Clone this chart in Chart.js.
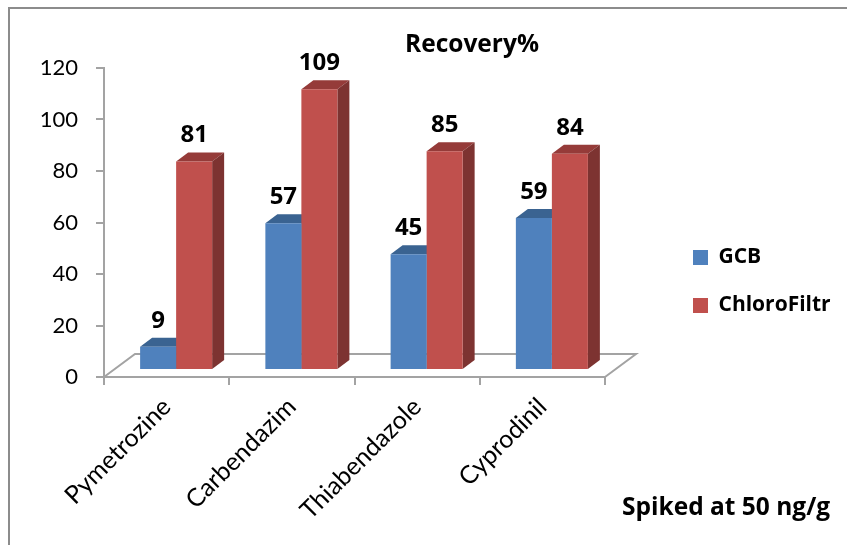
<!DOCTYPE html>
<html><head><meta charset="utf-8">
<style>html,body{margin:0;padding:0;background:#fff}canvas{display:block}</style>
<script src="https://cdn.jsdelivr.net/npm/chart.js@4"></script></head>
<body><canvas id="c" width="847" height="545"></canvas>
<script>
const categories = ["Pymetrozine","Carbendazim","Thiabendazole","Cyprodinil"];
const gcbValues = [9,57,45,59];
const chloroFiltrValues = [81,109,85,84];
const seriesNames = ["GCB","ChloroFiltr"];
const chartTitle = "Recovery%";
const noteText = "Spiked at 50 ng/g";
const yTicks = {min:0,max:120,step:20};

const FONT = "Lato, sans-serif";
const BOLD = "'Open Sans', sans-serif";
const GRID = "#a3a3a3";
const DEPTH = {dx:12, dy:9};
const SHIFT = {x:9.5, y:-7};
const faces = [{top:"#3a6391",side:"#335680"},{top:"#953b39",side:"#7d3331"}];

const threeD = {
  id:"threeD",
  beforeDraw(chart){
    const {ctx} = chart;
    ctx.save();
    ctx.strokeStyle="#8c8c8c"; ctx.lineWidth=2;
    ctx.beginPath();
    ctx.moveTo(9,545); ctx.lineTo(9,8); ctx.lineTo(847,8);
    ctx.stroke();
    ctx.restore();
  },
  beforeDatasetsDraw(chart){
    const {ctx,chartArea:a} = chart;
    ctx.save();
    ctx.strokeStyle=GRID; ctx.lineWidth=2;
    ctx.beginPath();
    ctx.moveTo(a.left,a.bottom); ctx.lineTo(a.left+31,a.bottom-23);
    ctx.lineTo(a.right+31,a.bottom-23); ctx.lineTo(a.right,a.bottom);
    ctx.stroke();
    ctx.restore();
    ctx.save();
    ctx.translate(SHIFT.x,SHIFT.y);
    chart.data.datasets.forEach((d,i)=>{
      const f = faces[i];
      chart.getDatasetMeta(i).data.forEach(b=>{
        const l=b.x-b.width/2, r=b.x+b.width/2, t=b.y, bs=b.base;
        ctx.fillStyle=f.top;
        ctx.beginPath();
        ctx.moveTo(l,t); ctx.lineTo(l+DEPTH.dx,t-DEPTH.dy);
        ctx.lineTo(r+DEPTH.dx,t-DEPTH.dy); ctx.lineTo(r,t); ctx.closePath(); ctx.fill();
        ctx.fillStyle=f.side;
        ctx.beginPath();
        ctx.moveTo(r,t); ctx.lineTo(r+DEPTH.dx,t-DEPTH.dy);
        ctx.lineTo(r+DEPTH.dx,bs-DEPTH.dy); ctx.lineTo(r,bs); ctx.closePath(); ctx.fill();
      });
    });
  },
  afterDatasetsDraw(chart){
    const {ctx} = chart;
    ctx.fillStyle="#000"; ctx.textAlign="center"; ctx.textBaseline="middle";
    ctx.font="bold 24px "+BOLD;
    chart.data.datasets.forEach((d,i)=>{
      chart.getDatasetMeta(i).data.forEach((b,j)=>{
        ctx.fillText(String(d.data[j]),b.x,b.y-26);
      });
    });
    ctx.restore();
    ctx.save();
    ctx.fillStyle="#000"; ctx.textBaseline="middle";
    ctx.font="bold 24.5px "+BOLD;
    ctx.textAlign="center";
    ctx.fillText(chartTitle,472,45);
    ctx.textAlign="left";
    ctx.fillText(noteText,622,508);
    ctx.restore();
  },
  afterLayout(chart){
    const lg = chart.legend;
    lg.left = 693-lg.options.labels.padding;
    lg.top = 247-lg.options.labels.padding;
    lg.right = 847; lg.bottom = 545;
  }
};

new Chart(document.getElementById("c"),{
  type:"bar",
  plugins:[threeD],
  data:{labels:categories,datasets:[
    {label:seriesNames[0],data:gcbValues,backgroundColor:"#4f81bd",clip:false},
    {label:seriesNames[1],data:chloroFiltrValues,backgroundColor:"#c0504d",clip:false}
  ]},
  options:{
    responsive:false,animation:false,devicePixelRatio:1,
    layout:{padding:{top:68,right:242,left:0,bottom:0}},
    datasets:{bar:{categoryPercentage:0.575,barPercentage:1}},
    plugins:{
      title:{display:false},tooltip:{enabled:false},
      legend:{position:"chartArea",align:"start",
        labels:{boxWidth:15,boxHeight:15,padding:27,color:"#000",font:{family:BOLD,size:21,weight:"bold"}}}
    },
    scales:{
      x:{offset:true,
        afterFit(s){s.height=168;},
        grid:{drawOnChartArea:false,drawTicks:true,tickLength:8,color:GRID,lineWidth:2},
        border:{color:GRID,width:2},
        ticks:{minRotation:45,maxRotation:45,color:"#000",padding:7,font:{family:FONT,size:25}}},
      y:{min:yTicks.min,max:yTicks.max,
        afterFit(s){s.width=104;},
        grid:{drawOnChartArea:false,drawTicks:true,tickLength:8,color:GRID,lineWidth:2},
        border:{color:GRID,width:2},
        ticks:{stepSize:yTicks.step,color:"#000",padding:18,font:{family:FONT,size:22}}}
    }
  }
});
</script></body></html>
